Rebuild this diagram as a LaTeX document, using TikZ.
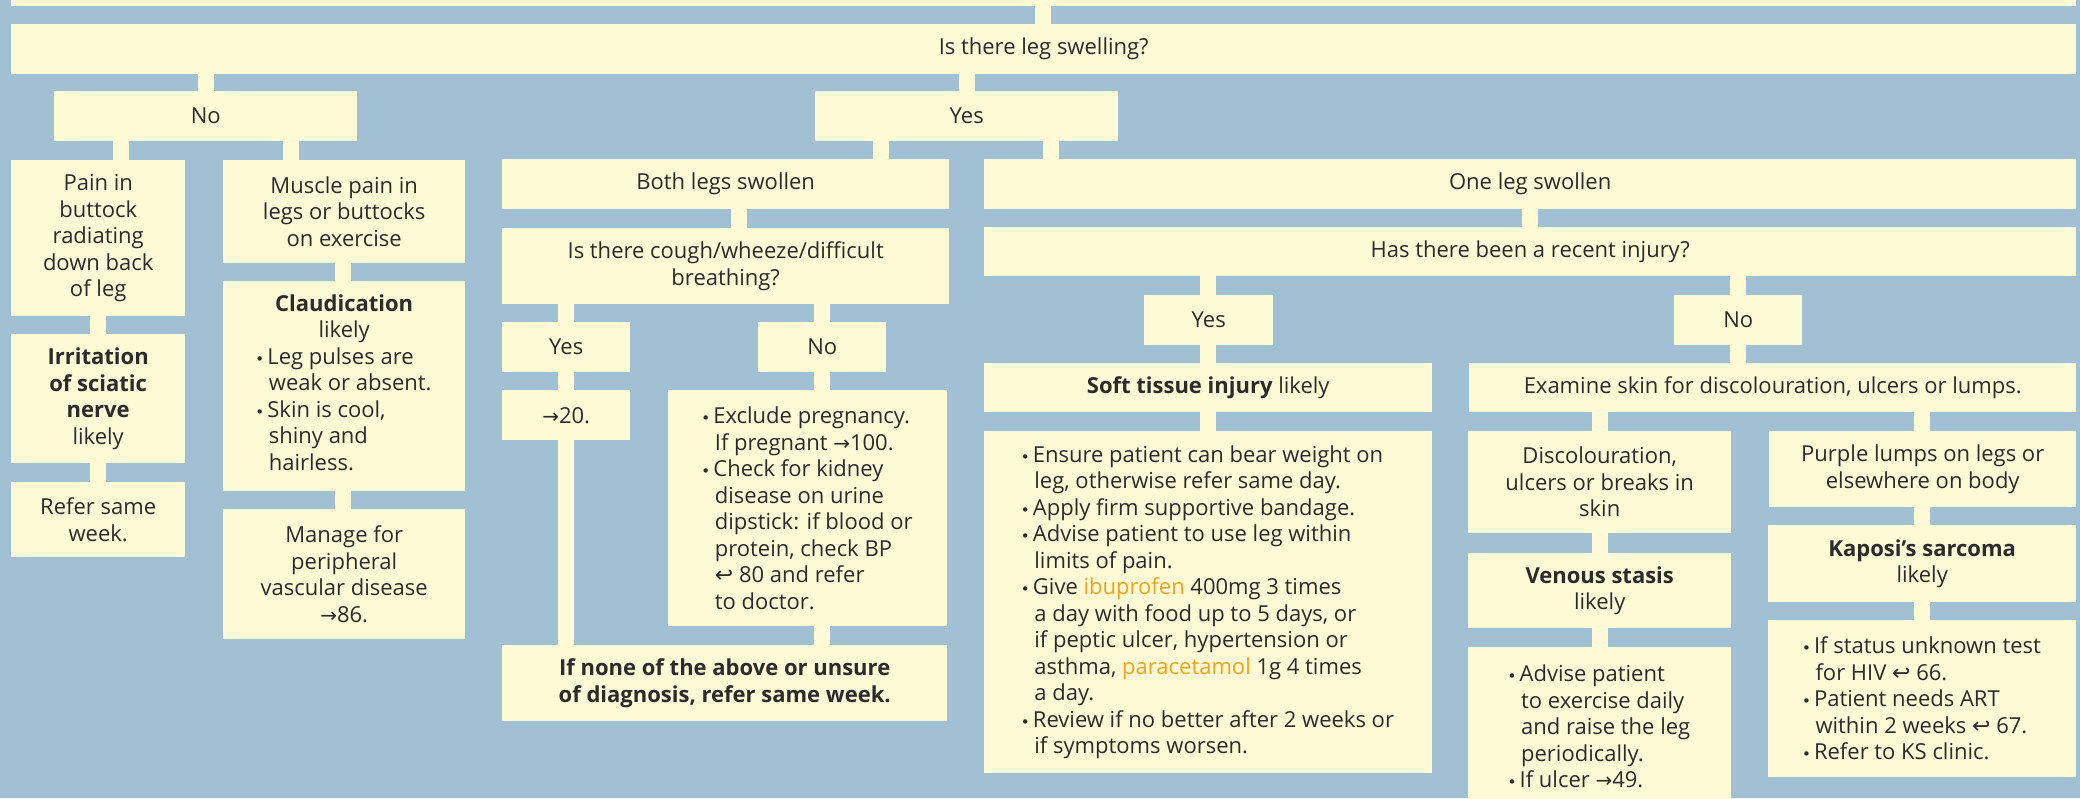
\documentclass[tikz,border=0pt]{standalone}
\usepackage{fontspec}
\setmainfont{Open Sans}
\newfontfamily\symfont{DejaVu Sans}
\usetikzlibrary{positioning}

\definecolor{chartbg}{HTML}{A2C0D3}
\definecolor{cream}{HTML}{FFFAD6}
\definecolor{inktext}{HTML}{2B2B2B}
\definecolor{drugorange}{HTML}{F7A21B}

\newcommand{\goto}{{\symfont\fontsize{20}{20}\selectfont →}}
\newcommand{\seepage}{{\symfont\fontsize{22}{22}\selectfont ↩}}
\newcommand{\bul}{\makebox[10.5pt][l]{\hspace{-1.5pt}\symfont\fontsize{15}{15}\selectfont •}}
\newcommand{\ind}{\hspace*{12pt}}
\newcommand{\drug}[1]{\textcolor{drugorange}{#1}}

\tikzset{
    box/.style={rectangle, fill=cream, inner sep=0pt, anchor=north west, text=inktext, align=center},
    lst/.style={box, align=left},
    link/.style={draw=cream, line width=16pt},
}

\begin{document}
\begin{tikzpicture}[x=1pt, y=-1pt, font=\fontsize{22}{26.5}\selectfont]
    \useasboundingbox (0,0) rectangle (2080,798);
    \clip (0,0) rectangle (2080,798);
    \fill[chartbg] (0,0) rectangle (2080,798);

    % top of the chart
    \node[box, minimum width=2065pt, minimum height=46pt] (prev) at (11,-40) {};
    \node[box, minimum width=2065pt, minimum height=50pt] (swell) at (11,24) {Is there leg swelling?};
    \node[box, minimum width=303pt, minimum height=50pt] (no) at (54,91) {No};
    \node[box, minimum width=303pt, minimum height=50pt] (yes) at (815,91) {Yes};

    % no swelling
    \node[box, minimum width=174pt, minimum height=156pt] (pain) at (11,160) {Pain in\\buttock\\radiating\\down back\\of leg};
    \node[box, minimum width=174pt, minimum height=129pt] (sciatic) at (11,334) {\textbf{Irritation}\\\textbf{of sciatic}\\\textbf{nerve}\\likely};
    \node[box, minimum width=174pt, minimum height=75pt] (refer) at (11,482) {Refer same\\week.};
    \node[box, minimum width=242pt, minimum height=103pt] (muscle) at (223,160) {Muscle pain in\\legs or buttocks\\on exercise};
    \node[box, minimum width=242pt, minimum height=210pt] (claud) at (223,281) {\textbf{Claudication}\\likely\\\begin{tabular}[t]{@{}l@{}}\bul Leg pulses are\\\ind weak or absent.\\\bul Skin is cool,\\\ind shiny and\\\ind hairless.\end{tabular}};
    \node[box, minimum width=242pt, minimum height=130pt] (manage) at (223,509) {Manage for\\peripheral\\vascular disease\\\goto86.};

    % both legs
    \node[box, minimum width=447pt, minimum height=50pt] (both) at (502,159) {Both legs swollen};
    \node[box, minimum width=447pt, minimum height=76pt] (cough) at (502,228) {Is there cough/wheeze/difficult\\breathing?};
    \node[box, minimum width=128pt, minimum height=50pt] (cyes) at (502,322) {Yes};
    \node[box, minimum width=128pt, minimum height=50pt] (cno) at (758,322) {No};
    \node[box, minimum width=128pt, minimum height=50pt] (heart) at (502,390) {\goto20.};
    \node[lst, minimum width=279pt, minimum height=236pt] (preg) at (668,390) {\bul Exclude pregnancy.\\\ind If pregnant \goto100.\\\bul Check for kidney\\\ind disease on urine\\\ind dipstick: if blood or\\\ind protein, check BP\\\ind\seepage\ 80 and refer\\\ind to doctor.};
    \node[box, minimum width=445pt, minimum height=76pt, font=\fontsize{22}{26.5}\selectfont\bfseries] (unsure) at (502,645) {If none of the above or unsure\\of diagnosis, refer same week.};

    % one leg
    \node[box, minimum width=1092pt, minimum height=50pt] (one) at (984,159) {One leg swollen};
    \node[box, minimum width=1092pt, minimum height=49pt] (injury) at (984,227) {Has there been a recent injury?};
    \node[box, minimum width=129pt, minimum height=50pt] (iyes) at (1144,295) {Yes};
    \node[box, minimum width=128pt, minimum height=50pt] (ino) at (1674,295) {No};
    \node[box, minimum width=448pt, minimum height=49pt] (soft) at (984,363) {\textbf{Soft tissue injury} likely};
    \node[lst, minimum width=448pt, minimum height=342pt] (softcare) at (984,431) {\bul Ensure patient can bear weight on\\\ind leg, otherwise refer same day.\\\bul Apply firm supportive bandage.\\\bul Advise patient to use leg within\\\ind limits of pain.\\\bul Give \drug{ibuprofen} 400mg 3 times\\\ind a day with food up to 5 days, or\\\ind if peptic ulcer, hypertension or\\\ind asthma, \drug{paracetamol} 1g 4 times\\\ind a day.\\\bul Review if no better after 2 weeks or\\\ind if symptoms worsen.};
    \node[box, minimum width=607pt, minimum height=49pt] (skin) at (1469,363) {Examine skin for discolouration, ulcers or lumps.};
    \node[box, minimum width=263pt, minimum height=102pt] (disc) at (1468,431) {Discolouration,\\ulcers or breaks in\\skin};
    \node[box, minimum width=263pt, minimum height=75pt] (venous) at (1468,553) {\textbf{Venous stasis}\\likely};
    \node[lst, minimum width=263pt, minimum height=159pt] (vencare) at (1468,647) {\bul Advise patient\\\ind to exercise daily\\\ind and raise the leg\\\ind periodically.\\\bul If ulcer \goto49.};
    \node[box, minimum width=307pt, minimum height=76pt] (lumps) at (1769,431) {Purple lumps on legs or\\elsewhere on body};
    \node[box, minimum width=308pt, minimum height=77pt] (kaposi) at (1768,525) {\textbf{Kaposi’s sarcoma}\\likely};
    \node[lst, minimum width=308pt, minimum height=157pt] (kapcare) at (1768,620) {\bul If status unknown test\\\ind for HIV \seepage\ 66.\\\bul Patient needs ART\\\ind within 2 weeks \seepage\ 67.\\\bul Refer to KS clinic.};

    % links between the boxes
    \draw[link] (1043,0 |- prev.south) -- (1043,0 |- swell.north);
    \draw[link] (205.5,0 |- swell.south) -- (205.5,0 |- no.north);
    \draw[link] (967,0 |- swell.south) -- (967,0 |- yes.north);
    \draw[link] (121,0 |- no.south) -- (121,0 |- pain.north);
    \draw[link] (291,0 |- no.south) -- (291,0 |- muscle.north);
    \draw[link] (880.5,0 |- yes.south) -- (880.5,0 |- both.north);
    \draw[link] (1051,0 |- yes.south) -- (1051,0 |- one.north);
    \draw[link] (98,0 |- pain.south) -- (98,0 |- sciatic.north);
    \draw[link] (98,0 |- sciatic.south) -- (98,0 |- refer.north);
    \draw[link] (343,0 |- muscle.south) -- (343,0 |- claud.north);
    \draw[link] (343,0 |- claud.south) -- (343,0 |- manage.north);
    \draw[link] (739,0 |- both.south) -- (739,0 |- cough.north);
    \draw[link] (566,0 |- cough.south) -- (566,0 |- cyes.north);
    \draw[link] (822,0 |- cough.south) -- (822,0 |- cno.north);
    \draw[link] (566,0 |- cyes.south) -- (566,0 |- heart.north);
    \draw[link] (822,0 |- cno.south) -- (822,0 |- preg.north);
    \draw[link] (566,0 |- heart.south) -- (566,0 |- unsure.north);
    \draw[link] (822,0 |- preg.south) -- (822,0 |- unsure.north);
    \draw[link] (1530,0 |- one.south) -- (1530,0 |- injury.north);
    \draw[link] (1208,0 |- injury.south) -- (1208,0 |- iyes.north);
    \draw[link] (1738,0 |- injury.south) -- (1738,0 |- ino.north);
    \draw[link] (1208,0 |- iyes.south) -- (1208,0 |- soft.north);
    \draw[link] (1208,0 |- soft.south) -- (1208,0 |- softcare.north);
    \draw[link] (1738,0 |- ino.south) -- (1738,0 |- skin.north);
    \draw[link] (1600,0 |- skin.south) -- (1600,0 |- disc.north);
    \draw[link] (1922,0 |- skin.south) -- (1922,0 |- lumps.north);
    \draw[link] (1600,0 |- disc.south) -- (1600,0 |- venous.north);
    \draw[link] (1600,0 |- venous.south) -- (1600,0 |- vencare.north);
    \draw[link] (1922,0 |- lumps.south) -- (1922,0 |- kaposi.north);
    \draw[link] (1922,0 |- kaposi.south) -- (1922,0 |- kapcare.north);
\end{tikzpicture}
\end{document}
